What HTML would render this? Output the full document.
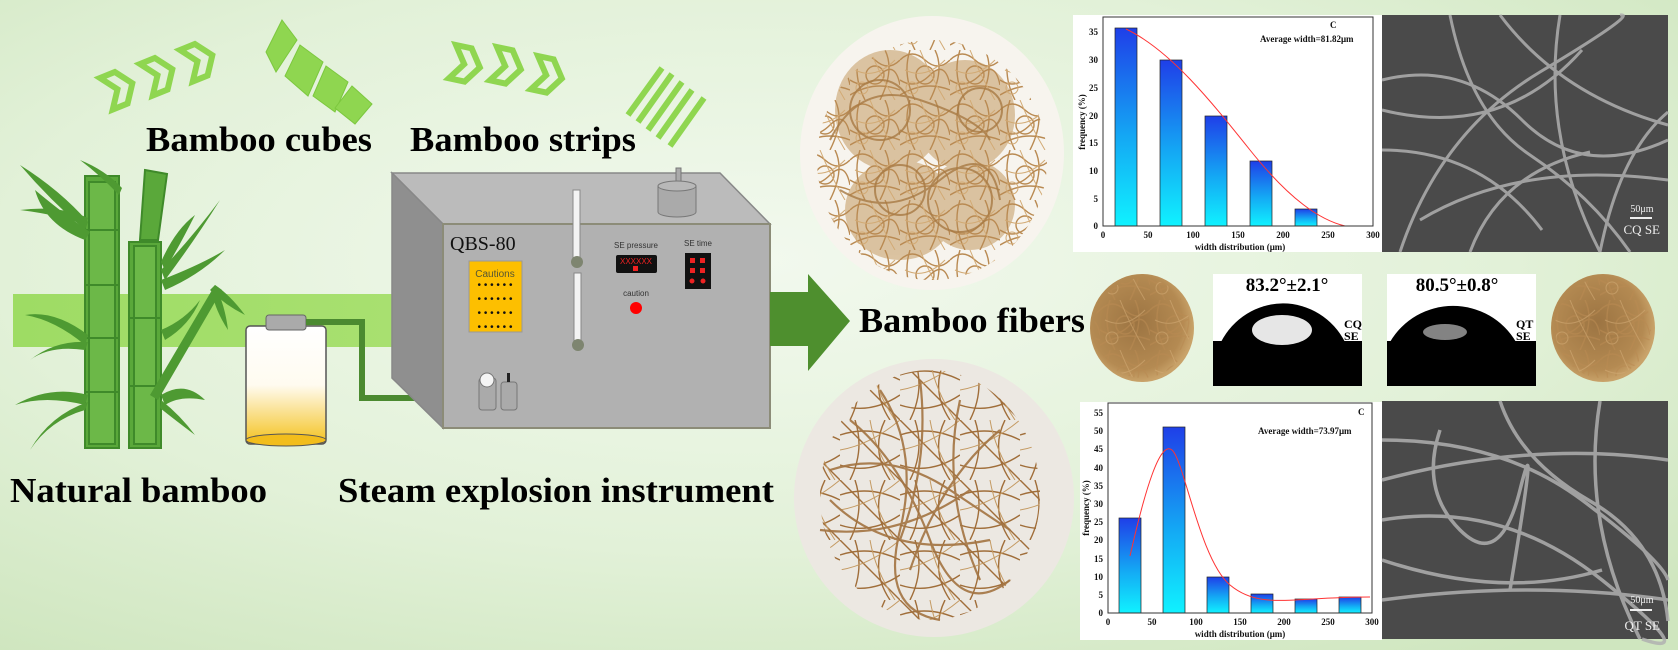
<!DOCTYPE html>
<html><head><meta charset="utf-8"><style>
html,body{margin:0;padding:0;width:1678px;height:650px;overflow:hidden;background:#dcefd0}
svg{display:block}
</style></head><body>
<svg width="1678" height="650" viewBox="0 0 1678 650" xmlns="http://www.w3.org/2000/svg">
<defs>
<radialGradient id="bg" cx="0.45" cy="0.4" r="0.75">
<stop offset="0" stop-color="#f2f9ee"/><stop offset="0.6" stop-color="#e2f1d8"/><stop offset="1" stop-color="#cfe6bf"/>
</radialGradient>
<linearGradient id="bar" x1="0" y1="0" x2="0" y2="1">
<stop offset="0" stop-color="#1f3fe8"/><stop offset="0.55" stop-color="#14a8f4"/><stop offset="1" stop-color="#10f2ff"/>
</linearGradient>
<linearGradient id="tank" x1="0" y1="0" x2="0" y2="1">
<stop offset="0" stop-color="#fff"/><stop offset="0.5" stop-color="#fffbf0"/><stop offset="1" stop-color="#f4c21e"/>
</linearGradient>
<linearGradient id="band" x1="0" y1="0" x2="1" y2="0">
<stop offset="0" stop-color="#9edc64"/><stop offset="1" stop-color="#a8e070"/>
</linearGradient>
<radialGradient id="pel" cx="0.45" cy="0.45" r="0.55">
<stop offset="0" stop-color="#9c7442"/><stop offset="0.8" stop-color="#b48a52"/><stop offset="1" stop-color="#c9a36a"/>
</radialGradient>
<pattern id="fib1" width="50" height="50" patternUnits="userSpaceOnUse">
<g fill="none" stroke="#b98a52" stroke-width="1.4">
<path d="M0 10 q12 -12 25 0 t25 0"/><path d="M0 30 q15 10 30 -5 t20 10"/>
<path d="M10 0 q-8 25 5 50"/><path d="M35 0 q10 20 -5 50"/>
<circle cx="25" cy="25" r="9"/><path d="M0 45 q25 -15 50 -5"/>
</g>
<g fill="none" stroke="#d2aa74" stroke-width="1">
<path d="M5 20 q20 10 40 -10"/><path d="M20 0 q10 25 25 50"/><circle cx="12" cy="38" r="6"/>
</g>
</pattern>
<pattern id="fib2" width="60" height="60" patternUnits="userSpaceOnUse">
<g fill="none" stroke="#a06e3a" stroke-width="1.4">
<path d="M0 15 q30 -10 60 5"/><path d="M15 0 q10 30 -5 60"/><path d="M45 0 q-15 30 5 60"/>
<path d="M0 45 q30 10 60 -10"/><path d="M0 0 l60 60"/>
</g>
<g fill="none" stroke="#c49a62" stroke-width="1"><path d="M60 0 q-30 25 -60 30"/><path d="M30 0 q5 30 25 60"/></g>
</pattern>
</defs>
<rect width="1678" height="650" fill="url(#bg)"/>

<!-- band -->
<rect x="13" y="294" width="385" height="53" fill="url(#band)"/>

<!-- chevrons 1 -->
<g fill="none" stroke="#8fd650" stroke-width="6" stroke-linejoin="miter">
<g transform="translate(100,78) rotate(-22)"><path d="M0 0 L16 0 L28 17 L16 34 L0 34 L12 17 Z"/></g>
<g transform="translate(140,64) rotate(-22)"><path d="M0 0 L16 0 L28 17 L16 34 L0 34 L12 17 Z"/></g>
<g transform="translate(180,50) rotate(-22)"><path d="M0 0 L16 0 L28 17 L16 34 L0 34 L12 17 Z"/></g>
</g>
<!-- cubes -->
<g fill="#8fd650" stroke="#7cc83e" stroke-width="1">
<polygon points="282,20 297,40 276,72 266,52"/>
<polygon points="300,45 323,62 308,96 285,76"/>
<polygon points="326,66 348,82 335,112 313,96"/>
<polygon points="352,86 372,104 355,124 335,108"/>
</g>
<!-- chevrons 2 -->
<g fill="none" stroke="#8fd650" stroke-width="6">
<g transform="translate(456,45) rotate(12)"><path d="M0 0 L16 0 L28 17 L16 34 L0 34 L12 17 Z"/></g>
<g transform="translate(497,47) rotate(12)"><path d="M0 0 L16 0 L28 17 L16 34 L0 34 L12 17 Z"/></g>
<g transform="translate(538,56) rotate(12)"><path d="M0 0 L16 0 L28 17 L16 34 L0 34 L12 17 Z"/></g>
</g>
<!-- strips -->
<g stroke="#8fd650" stroke-width="6">
<line x1="628" y1="115" x2="662" y2="68"/>
<line x1="638" y1="122" x2="672" y2="74"/>
<line x1="648" y1="130" x2="682" y2="82"/>
<line x1="658" y1="138" x2="692" y2="90"/>
<line x1="670" y1="146" x2="704" y2="98"/>
</g>

<g font-family="Liberation Serif, serif" font-weight="bold" fill="#000">
<text x="146" y="151" font-size="35" textLength="226" lengthAdjust="spacingAndGlyphs">Bamboo cubes</text>
<text x="410" y="151" font-size="35" textLength="226" lengthAdjust="spacingAndGlyphs">Bamboo strips</text>
<text x="10" y="502" font-size="35" textLength="257" lengthAdjust="spacingAndGlyphs">Natural bamboo</text>
<text x="338" y="502" font-size="35" textLength="436" lengthAdjust="spacingAndGlyphs">Steam explosion instrument</text>
<text x="859" y="332" font-size="35" textLength="226" lengthAdjust="spacingAndGlyphs">Bamboo fibers</text>
</g>

<!-- bamboo -->
<g>
<g stroke="#3f8a2a" stroke-width="2">
<rect x="85" y="176" width="34" height="272" fill="#5aa83a"/>
<rect x="89" y="182" width="26" height="262" fill="#6cb848"/>
<line x1="85" y1="230" x2="119" y2="230"/><line x1="85" y1="285" x2="119" y2="285"/>
<line x1="85" y1="338" x2="119" y2="338"/><line x1="85" y1="392" x2="119" y2="392"/>
<polygon points="145,170 167,174 158,240 140,240" fill="#5aa83a"/>
<rect x="129" y="242" width="32" height="206" fill="#5aa83a"/>
<rect x="134" y="246" width="22" height="198" fill="#6cb848"/>
<line x1="129" y1="318" x2="161" y2="318"/><line x1="129" y1="386" x2="161" y2="386"/>
</g>
<g fill="#4e9a32">
<path d="M85 230 Q50 200 20 165 Q60 190 88 222Z"/>
<path d="M85 225 Q60 215 20 210 Q60 205 88 218Z"/>
<path d="M85 240 Q45 225 35 190 Q65 215 90 232Z"/>
<path d="M119 195 Q100 175 80 160 Q105 170 122 188Z"/>
<path d="M161 270 Q190 240 220 200 Q195 240 165 280Z"/>
<path d="M161 280 Q200 265 225 250 Q200 275 165 290Z"/>
<path d="M161 262 Q175 230 195 215 Q180 245 165 270Z"/>
<path d="M161 330 Q185 320 200 300 Q190 325 165 340Z"/>
<path d="M150 395 L215 285 L222 290 L158 400Z"/>
<path d="M215 285 Q230 295 245 315 Q225 305 210 290Z"/>
<path d="M215 285 Q225 305 228 330 Q215 310 212 292Z"/>
<path d="M85 345 Q55 320 25 315 Q55 310 88 335Z"/>
<path d="M85 350 Q50 345 30 360 Q55 340 88 342Z"/>
<path d="M85 405 Q45 395 15 405 Q50 385 88 395Z"/>
<path d="M85 410 Q50 420 30 450 Q50 415 88 402Z"/>
<path d="M161 395 Q185 380 205 400 Q180 395 165 405Z"/>
<path d="M161 400 Q180 415 195 435 Q175 420 160 408Z"/>
</g>
</g>

<!-- tank -->
<rect x="246" y="326" width="80" height="118" rx="4" fill="url(#tank)" stroke="#555" stroke-width="1.5"/>
<ellipse cx="286" cy="440" rx="40" ry="6" fill="#f2bd1c" stroke="#555" stroke-width="1"/>
<rect x="266" y="315" width="40" height="15" rx="3" fill="#aaa" stroke="#666"/>
<!-- pipe -->
<polyline points="306,322 362,322 362,398 482,398" fill="none" stroke="#4b8a30" stroke-width="6"/>

<!-- box -->
<polygon points="392,173 720,173 770,224 443,224" fill="#bbb" stroke="#888" stroke-width="1.5"/>
<polygon points="392,173 443,224 443,428 392,378" fill="#8f8f8f" stroke="#888" stroke-width="1.5"/>
<rect x="443" y="224" width="327" height="204" fill="#b1b1b1" stroke="#8c8c78" stroke-width="2"/>
<text x="450" y="250" font-family="Liberation Serif, serif" font-size="20" fill="#111">QBS-80</text>
<rect x="469" y="261" width="53" height="71" fill="#fdbf00" stroke="#999"/>
<text x="495" y="277" font-family="Liberation Sans, sans-serif" font-size="10" fill="#553" text-anchor="middle">Cautions</text>
<g font-family="Liberation Sans, sans-serif" font-size="10" fill="#111" text-anchor="middle">
<text x="495" y="288">• • • • • •</text><text x="495" y="302">• • • • • •</text><text x="495" y="316">• • • • • •</text><text x="495" y="330">• • • • • •</text>
</g>
<rect x="573" y="190" width="7" height="72" fill="#f3f3f3" stroke="#888"/>
<circle cx="577" cy="262" r="6" fill="#7e8570"/>
<rect x="574" y="273" width="7" height="72" fill="#f3f3f3" stroke="#888"/>
<circle cx="578" cy="345" r="6" fill="#7e8570"/>
<rect x="676" y="168" width="5" height="16" fill="#aaa" stroke="#777"/>
<path d="M658 186 v26 a19 5 0 0 0 38 0 v-26" fill="#aaa" stroke="#777"/>
<ellipse cx="677" cy="186" rx="19" ry="5" fill="#b8b8b8" stroke="#777"/>
<g font-family="Liberation Sans, sans-serif" font-size="8" fill="#333" text-anchor="middle">
<text x="636" y="248">SE pressure</text><text x="698" y="246">SE time</text><text x="636" y="296">caution</text>
</g>
<rect x="616" y="255" width="41" height="18" rx="2" fill="#111"/>
<text x="636" y="264" font-family="Liberation Sans, sans-serif" font-size="8" fill="#e22" text-anchor="middle">XXXXXX</text>
<rect x="633" y="266" width="5" height="5" fill="#e22"/>
<rect x="685" y="253" width="26" height="36" fill="#111"/>
<g fill="#e22"><rect x="690" y="258" width="5" height="5"/><rect x="700" y="258" width="5" height="5"/><rect x="690" y="268" width="5" height="5"/><rect x="700" y="268" width="5" height="5"/><circle cx="692" cy="281" r="2.5"/><circle cx="703" cy="281" r="2.5"/></g>
<circle cx="636" cy="308" r="6" fill="#f00"/>
<rect x="479" y="378" width="17" height="32" rx="3" fill="#aaa" stroke="#777"/>
<circle cx="487" cy="380" r="7" fill="#f4f4f4" stroke="#777"/>
<rect x="501" y="382" width="16" height="28" rx="3" fill="#aaa" stroke="#777"/>
<rect x="507" y="373" width="3" height="9" fill="#222"/>

<!-- big arrow -->
<polygon points="770,292 808,292 808,274 850,321 808,371 808,346 770,346" fill="#4e8f2e"/>

<!-- fiber photos -->
<ellipse cx="932" cy="153" rx="132" ry="137" fill="#f7f4ee"/>
<g fill="#c49a62" opacity="0.55">
<ellipse cx="890" cy="110" rx="55" ry="60"/><ellipse cx="965" cy="115" rx="50" ry="55"/>
<ellipse cx="900" cy="210" rx="55" ry="50"/><ellipse cx="970" cy="205" rx="45" ry="45"/>
</g>
<ellipse cx="932" cy="160" rx="115" ry="120" fill="url(#fib1)"/>
<g fill="none" stroke="#a87a44" stroke-width="2" opacity="0.8">
<circle cx="880" cy="110" r="30"/><circle cx="960" cy="200" r="32"/><circle cx="900" cy="190" r="25"/>
<circle cx="980" cy="110" r="22"/><path d="M830 140 q30 -60 90 -40 t70 40"/><path d="M840 190 q50 30 100 -10 t60 20"/>
</g>
<ellipse cx="934" cy="498" rx="140" ry="139" fill="#ece8e2"/>
<ellipse cx="930" cy="495" rx="110" ry="125" fill="url(#fib2)"/>
<g fill="none" stroke="#a37442" stroke-width="2.2" opacity="0.9">
<path d="M880 390 q40 60 20 140 t40 90"/><path d="M920 380 q10 80 -20 160"/>
<path d="M830 470 q60 -20 120 20 t60 40"/><path d="M820 530 q80 10 150 -40"/>
<path d="M850 420 q50 40 80 120 t80 40"/><path d="M960 400 q-20 90 20 180"/>
<path d="M1000 430 q-60 50 -90 140"/><path d="M830 500 q60 60 160 40"/>
</g>

<!-- top chart -->
<rect x="1073" y="15" width="309" height="237" fill="#fff"/>
<g font-family="Liberation Serif, serif" font-size="9" fill="#111">
<g fill="url(#bar)" stroke="#222" stroke-width="0.7">
<rect x="1115" y="28" width="22" height="198"/>
<rect x="1160" y="60" width="22" height="166"/>
<rect x="1205" y="116" width="22" height="110"/>
<rect x="1250" y="161" width="22" height="65"/>
<rect x="1295" y="209" width="22" height="17"/>
</g>
<path d="M1126 29 C1170 50 1210 100 1250 150 S1320 220 1345 226" fill="none" stroke="#f33" stroke-width="1"/>
<rect x="1103" y="17" width="270" height="209" fill="none" stroke="#333"/>
<text x="1330" y="28" font-weight="bold">C</text>
<text x="1260" y="42" font-weight="bold">Average width=81.82μm</text>
<g text-anchor="end" font-weight="bold"><text x="1098" y="229">0</text><text x="1098" y="202">5</text><text x="1098" y="174">10</text><text x="1098" y="146">15</text><text x="1098" y="119">20</text><text x="1098" y="91">25</text><text x="1098" y="63">30</text><text x="1098" y="35">35</text></g>
<g text-anchor="middle" font-weight="bold"><text x="1103" y="238">0</text><text x="1148" y="238">50</text><text x="1193" y="238">100</text><text x="1238" y="238">150</text><text x="1283" y="238">200</text><text x="1328" y="238">250</text><text x="1373" y="238">300</text>
<text x="1240" y="250">width distribution (μm)</text></g>
<text transform="translate(1085,122) rotate(-90)" text-anchor="middle" font-weight="bold">frequency (%)</text>
</g>

<!-- bottom chart -->
<rect x="1080" y="402" width="302" height="238" fill="#fff"/>
<g font-family="Liberation Serif, serif" font-size="9" fill="#111">
<g fill="url(#bar)" stroke="#222" stroke-width="0.7">
<rect x="1119" y="518" width="22" height="95"/>
<rect x="1163" y="427" width="22" height="186"/>
<rect x="1207" y="577" width="22" height="36"/>
<rect x="1251" y="594" width="22" height="19"/>
<rect x="1295" y="599" width="22" height="14"/>
<rect x="1339" y="597" width="22" height="16"/>
</g>
<path d="M1130 556 C1145 490 1160 440 1172 450 S1200 560 1230 585 S1290 597 1370 597" fill="none" stroke="#f33" stroke-width="1"/>
<rect x="1108" y="403" width="264" height="210" fill="none" stroke="#333"/>
<text x="1358" y="415" font-weight="bold">C</text>
<text x="1258" y="434" font-weight="bold">Average width=73.97μm</text>
<g text-anchor="end" font-weight="bold"><text x="1103" y="616">0</text><text x="1103" y="598">5</text><text x="1103" y="580">10</text><text x="1103" y="562">15</text><text x="1103" y="543">20</text><text x="1103" y="525">25</text><text x="1103" y="507">30</text><text x="1103" y="489">35</text><text x="1103" y="471">40</text><text x="1103" y="452">45</text><text x="1103" y="434">50</text><text x="1103" y="416">55</text></g>
<g text-anchor="middle" font-weight="bold"><text x="1108" y="625">0</text><text x="1152" y="625">50</text><text x="1196" y="625">100</text><text x="1240" y="625">150</text><text x="1284" y="625">200</text><text x="1328" y="625">250</text><text x="1372" y="625">300</text>
<text x="1240" y="637">width distribution (μm)</text></g>
<text transform="translate(1089,508) rotate(-90)" text-anchor="middle" font-weight="bold">frequency (%)</text>
</g>

<!-- SEM -->
<rect x="1382" y="15" width="286" height="237" fill="#4a4a4a"/>
<g fill="none" stroke="#b0b0b0" stroke-width="3" opacity="0.85">
<path d="M1382 80 q80 -20 140 40 t146 20"/><path d="M1400 252 q40 -120 140 -180 t80 -57"/>
<path d="M1450 15 q20 100 80 140 t100 97"/><path d="M1382 150 q100 0 160 80"/>
<path d="M1500 15 q60 80 168 110"/><path d="M1420 220 q100 -60 248 -40"/>
<path d="M1560 15 q-20 120 40 237"/><path d="M1382 110 q120 30 200 -60"/>
<path d="M1600 252 q20 -100 68 -140"/><path d="M1470 252 q30 -80 120 -100"/>
</g>
<text x="1660" y="234" font-family="Liberation Serif, serif" font-size="13" fill="#eee" text-anchor="end">CQ SE</text>
<text x="1642" y="212" font-family="Liberation Serif, serif" font-size="10" fill="#eee" text-anchor="middle">50μm</text>
<line x1="1630" y1="218" x2="1652" y2="218" stroke="#eee" stroke-width="2"/>
<rect x="1382" y="401" width="286" height="238" fill="#4a4a4a"/>
<g fill="none" stroke="#b0b0b0" stroke-width="3.5" opacity="0.85">
<path d="M1382 440 q120 0 200 60 t86 80"/><path d="M1382 480 q150 -40 286 -20"/>
<path d="M1382 520 q120 -20 220 60 t40 59"/><path d="M1382 560 q120 40 220 10"/>
<path d="M1440 430 q-20 60 20 100 t60 -40 t-10 100"/><path d="M1500 401 q20 60 90 100 t78 120"/>
<path d="M1382 600 q150 -20 286 0"/><path d="M1600 401 q-20 120 40 238"/>
</g>
<text x="1660" y="630" font-family="Liberation Serif, serif" font-size="13" fill="#eee" text-anchor="end">QT SE</text>
<text x="1642" y="603" font-family="Liberation Serif, serif" font-size="10" fill="#eee" text-anchor="middle">50μm</text>
<line x1="1630" y1="610" x2="1652" y2="610" stroke="#eee" stroke-width="2"/>

<!-- pellets -->
<ellipse cx="1142" cy="328" rx="52" ry="54" fill="url(#pel)"/>
<ellipse cx="1603" cy="328" rx="52" ry="54" fill="url(#pel)"/>
<ellipse cx="1142" cy="328" rx="48" ry="50" fill="url(#fib1)" opacity="0.6"/>
<ellipse cx="1603" cy="328" rx="48" ry="50" fill="url(#fib1)" opacity="0.6"/>

<!-- contact angle -->
<rect x="1213" y="274" width="149" height="112" fill="#fff"/>
<rect x="1213" y="341" width="149" height="45" fill="#000"/>
<path d="M1221 342 A70 72 0 0 1 1345 342 Z" fill="#000"/>
<ellipse cx="1282" cy="330" rx="30" ry="15" fill="#fff" opacity="0.9"/>
<text x="1287" y="291" font-family="Liberation Serif, serif" font-weight="bold" font-size="19" text-anchor="middle">83.2°±2.1°</text>
<g font-family="Liberation Serif, serif" font-weight="bold" font-size="12" fill="#000"><text x="1344" y="328">CQ</text><text x="1344" y="340">SE</text></g>
<rect x="1387" y="274" width="149" height="112" fill="#fff"/>
<rect x="1387" y="341" width="149" height="45" fill="#000"/>
<path d="M1390 342 A73 73 0 0 1 1516 342 Z" fill="#000"/>
<ellipse cx="1445" cy="332" rx="22" ry="8" fill="#bbb" opacity="0.7"/>
<text x="1457" y="291" font-family="Liberation Serif, serif" font-weight="bold" font-size="19" text-anchor="middle">80.5°±0.8°</text>
<g font-family="Liberation Serif, serif" font-weight="bold" font-size="12" fill="#000"><text x="1516" y="328">QT</text><text x="1516" y="340">SE</text></g>
</svg>
</body></html>
